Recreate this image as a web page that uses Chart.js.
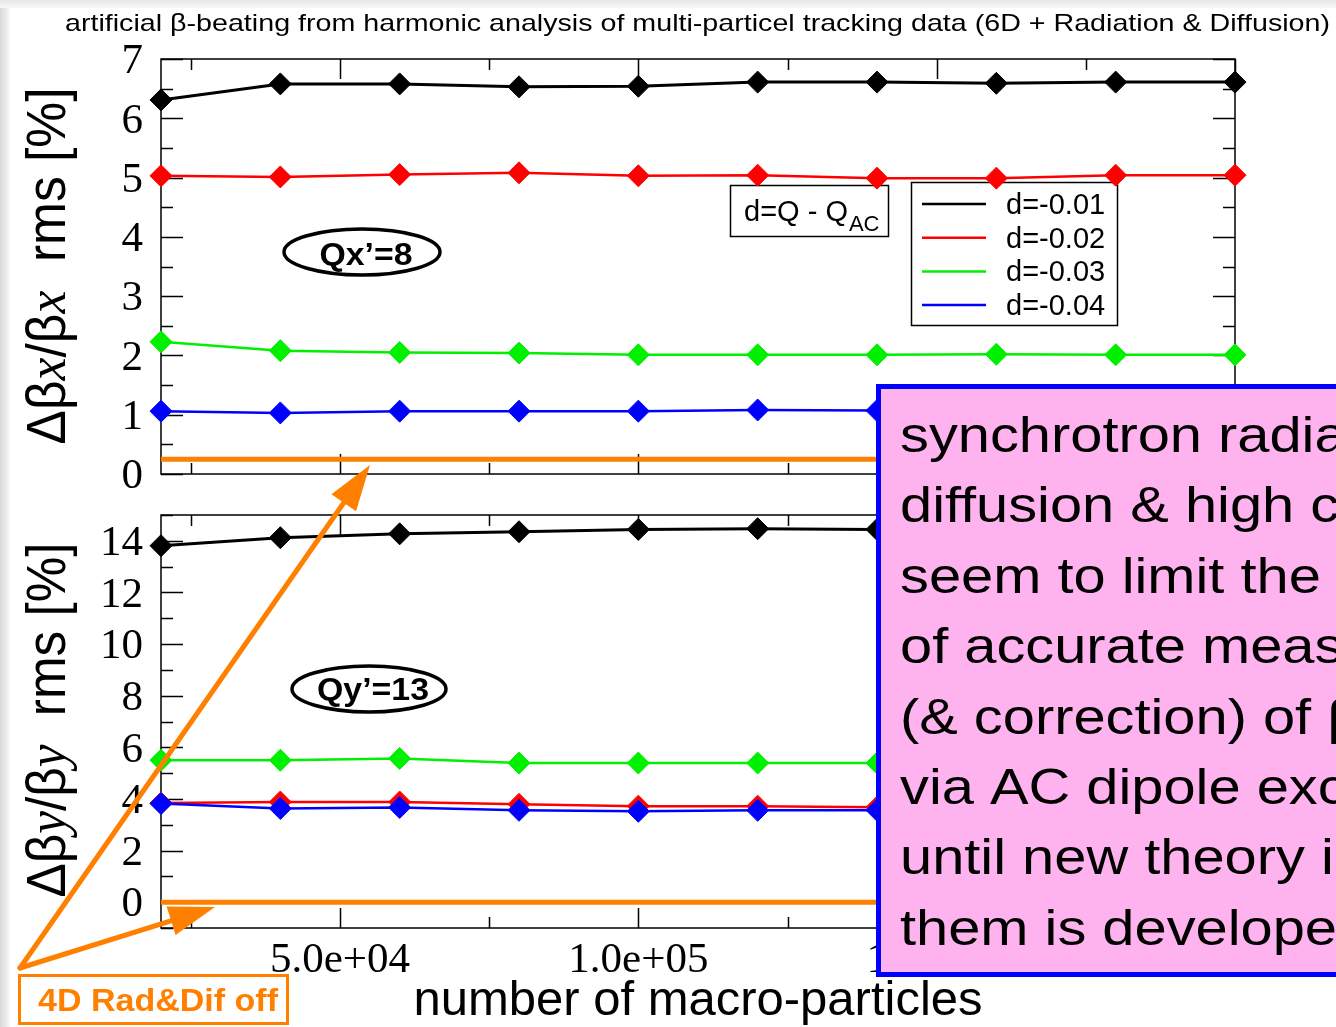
<!DOCTYPE html>
<html>
<head>
<meta charset="utf-8">
<script src="https://cdn.jsdelivr.net/npm/chart.js@4.4.1/dist/chart.umd.min.js"></script>
<style>
  html, body { margin: 0; padding: 0; background: #fff; }
  #page { position: relative; width: 1336px; height: 1027px; overflow: hidden;
          background: linear-gradient(to right, #d9d9d9 0px, #f3f3f3 9px, #fff 10px); }
  #page::before { content: ""; position: absolute; left: 0; top: 0; width: 1336px; height: 8px;
          background: linear-gradient(to bottom, #e6e6e6, #f8f8f8); }
  canvas { position: absolute; left: 0; }
  #topChart { top: 0; }
  #bottomChart { top: 500px; }
  #overlay { top: 0; pointer-events: none; }
</style>
</head>
<body>
<div id="page">
  <canvas id="topChart" width="1336" height="500"></canvas>
  <canvas id="bottomChart" width="1336" height="527"></canvas>
  <canvas id="overlay" width="1336" height="1027"></canvas>
</div>
<script>
// ==== Data ====
const particles = [20000, 40000, 60000, 80000, 100000, 120000, 140000, 160000, 180000, 200000];
const seriesLabels = ["d=-0.01", "d=-0.02", "d=-0.03", "d=-0.04"];
const seriesColors = ["#000000", "#ff0000", "#00f000", "#0000ff"];

// horizontal plane, Qx'=8
const bxD1 = [6.31, 6.58, 6.58, 6.53, 6.54, 6.61, 6.61, 6.59, 6.61, 6.61];
const bxD2 = [5.03, 5.01, 5.05, 5.08, 5.03, 5.04, 4.99, 4.99, 5.04, 5.04];
const bxD3 = [2.23, 2.08, 2.05, 2.04, 2.01, 2.01, 2.01, 2.02, 2.01, 2.01];
const bxD4 = [1.06, 1.03, 1.06, 1.06, 1.06, 1.08, 1.07, 1.07, 1.07, 1.07];
// vertical plane, Qy'=13
const byD1 = [13.81, 14.12, 14.27, 14.35, 14.44, 14.47, 14.44, 14.46, 14.47, 14.47];
const byD2 = [3.84, 3.88, 3.88, 3.79, 3.72, 3.72, 3.68, 3.70, 3.70, 3.70];
const byD3 = [5.50, 5.50, 5.57, 5.39, 5.39, 5.39, 5.39, 5.39, 5.39, 5.39];
const byD4 = [3.82, 3.63, 3.67, 3.56, 3.52, 3.56, 3.56, 3.56, 3.56, 3.56];

// 4D tracking without radiation & diffusion
const offRange = [20000, 200000];
const bxOff = [0.25, 0.25];
const byOff = [0.0, 0.0];

// ==== Ticks ====
const xTicks = [25000, 50000, 75000, 100000, 125000, 150000, 175000, 200000];
const xTickLabels = ["", "5.0e+04", "", "1.0e+05", "", "1.5e+05", "", "2.0e+05"];
const bxTicks = [0, 0.5, 1, 1.5, 2, 2.5, 3, 3.5, 4, 4.5, 5, 5.5, 6, 6.5, 7];
const bxTickLabels = ["0", "", "1", "", "2", "", "3", "", "4", "", "5", "", "6", "", "7"];
const byTicks = [-1, 0, 1, 2, 3, 4, 5, 6, 7, 8, 9, 10, 11, 12, 13, 14, 15];
const byTickLabels = ["", "0", "", "2", "", "4", "", "6", "", "8", "", "10", "", "12", "", "14", ""];

const ORANGE = "#ff8000";
const SANS = '"Liberation Sans", Arial, sans-serif';
const SERIF = '"Liberation Serif", "Times New Roman", serif';

// ==== Chart helpers ====
function series(values, i) {
  return {
    label: seriesLabels[i],
    data: particles.map((x, k) => ({ x, y: values[k] })),
    borderColor: seriesColors[i],
    backgroundColor: seriesColors[i],
    borderWidth: i === 0 ? 3 : 2.5,
    pointStyle: "rectRot",
    pointRadius: 11,
    pointBorderWidth: 1,
    tension: 0,
    clip: false,
    order: 4 - i
  };
}

function offLine(values) {
  return {
    label: "4D",
    data: offRange.map((x, k) => ({ x, y: values[k] })),
    borderColor: ORANGE,
    borderWidth: 5,
    pointRadius: 0,
    tension: 0,
    order: 10
  };
}

// fixed-size axis: no extra room for edge labels
function linearAxis(min, max, ticks, labels, show, size, padding, extra) {
  const horizontal = size.height !== undefined;
  return Object.assign({
    type: "linear",
    min, max,
    afterBuildTicks: s => { s.ticks = ticks.map(v => ({ value: v })); },
    afterFit: s => {
      if (horizontal) s.height = size.height; else s.width = size.width;
      s.paddingTop = 0; s.paddingBottom = 0; s.paddingLeft = 0; s.paddingRight = 0;
    },
    ticks: {
      display: show,
      autoSkip: false,
      maxRotation: 0,
      padding,
      labelOffset: horizontal ? 0 : 3,
      color: "#000",
      font: { family: SERIF, size: 43 },
      callback: (v, i) => labels[i]
    },
    grid: { display: false, drawTicks: false },
    border: { display: false }
  }, extra);
}

// box frame + inward ticks on all four sides
function framePlugin(xLabels, yLabels) {
  return {
    id: "frame",
    beforeDatasetsDraw(chart) {
      const { ctx, chartArea: a, scales: { x, y } } = chart;
      ctx.save();
      ctx.strokeStyle = "#000";
      ctx.lineWidth = 1.5;
      ctx.strokeRect(a.left, a.top, a.right - a.left, a.bottom - a.top);
      ctx.beginPath();
      x.ticks.forEach((t, i) => {
        const px = Math.round(x.getPixelForValue(t.value)) + 0.5;
        const len = xLabels[i] ? 20 : 11;
        ctx.moveTo(px, a.bottom); ctx.lineTo(px, a.bottom - len);
        ctx.moveTo(px, a.top); ctx.lineTo(px, a.top + len);
      });
      y.ticks.forEach((t, i) => {
        const py = Math.round(y.getPixelForValue(t.value)) + 0.5;
        const len = yLabels[i] ? 22 : 12;
        ctx.moveTo(a.left, py); ctx.lineTo(a.left + len, py);
        ctx.moveTo(a.right, py); ctx.lineTo(a.right - len, py);
      });
      ctx.stroke();
      ctx.restore();
    }
  };
}

// legend and tune definition inside the upper plot
const legendPlugin = {
  id: "tuneLegend",
  beforeDatasetsDraw(chart) {
    const ctx = chart.ctx;
    ctx.save();
    ctx.fillStyle = "#fff";
    ctx.strokeStyle = "#000";
    ctx.lineWidth = 1.5;
    ctx.fillRect(911, 182, 207, 144);
    ctx.strokeRect(911.5, 182.5, 206, 143);
    ctx.font = "29px " + SANS;
    ctx.textBaseline = "alphabetic";
    chart.data.datasets.slice(0, 4).forEach((ds, i) => {
      const ly = 204 + i * 33.7;
      ctx.strokeStyle = ds.borderColor;
      ctx.lineWidth = 2.5;
      ctx.beginPath();
      ctx.moveTo(922, ly);
      ctx.lineTo(986, ly);
      ctx.stroke();
      ctx.fillStyle = "#000";
      ctx.fillText(ds.label, 1006, ly + 10);
    });

    ctx.fillStyle = "#fff";
    ctx.strokeStyle = "#000";
    ctx.lineWidth = 1.5;
    ctx.fillRect(730, 185, 159, 52);
    ctx.strokeRect(730.5, 185.5, 158, 51);
    ctx.fillStyle = "#000";
    ctx.font = "29px " + SANS;
    ctx.fillText("d=Q - Q", 744, 221);
    const w = ctx.measureText("d=Q - Q").width;
    ctx.font = "22px " + SANS;
    ctx.fillText("AC", 744 + w + 1, 231);
    ctx.restore();
  }
};

// ==== Horizontal plot ====
new Chart(document.getElementById("topChart"), {
  type: "line",
  data: {
    datasets: [series(bxD1, 0), series(bxD2, 1), series(bxD3, 2), series(bxD4, 3), offLine(bxOff)]
  },
  options: {
    responsive: false,
    animation: false,
    events: [],
    layout: { padding: { top: 59, right: 101, left: 0, bottom: 0 } },
    plugins: { legend: { display: false }, tooltip: { enabled: false } },
    scales: {
      x: linearAxis(20000, 200000, xTicks, xTickLabels, false, { height: 26 }, 10),
      y: linearAxis(0, 7, bxTicks, bxTickLabels, true, { width: 161 }, 18)
    }
  },
  plugins: [framePlugin(xTickLabels, bxTickLabels), legendPlugin]
});

// ==== Vertical plot ====
new Chart(document.getElementById("bottomChart"), {
  type: "line",
  data: {
    datasets: [series(byD1, 0), series(byD2, 1), series(byD3, 2), series(byD4, 3), offLine(byOff)]
  },
  options: {
    responsive: false,
    animation: false,
    events: [],
    layout: { padding: { top: 15, right: 101, left: 0, bottom: 0 } },
    plugins: { legend: { display: false }, tooltip: { enabled: false } },
    scales: {
      x: linearAxis(20000, 200000, xTicks, xTickLabels, true, { height: 99 }, 7, {
        title: { display: true, text: "number of macro-particles", color: "#000",
                 font: { family: SANS, size: 49 }, padding: { top: 0, bottom: -4 } }
      }),
      y: linearAxis(-1, 15, byTicks, byTickLabels, true, { width: 161 }, 18)
    }
  },
  plugins: [framePlugin(xTickLabels, byTickLabels)]
});

// ==== Slide annotations ====
const ctx = document.getElementById("overlay").getContext("2d");

function fitText(text, x, y, font, width, color) {
  ctx.save();
  ctx.font = font;
  const w = ctx.measureText(text).width;
  ctx.translate(x, y);
  ctx.scale(width / w, 1);
  ctx.fillStyle = color;
  ctx.fillText(text, 0, 0);
  ctx.restore();
}

function axisTitle(parts, baseX, cy, length) {
  ctx.save();
  let total = 0;
  parts.forEach(p => { ctx.font = p[1]; p.w = ctx.measureText(p[0]).width; total += p.w; });
  ctx.translate(baseX, cy);
  ctx.rotate(-Math.PI / 2);
  ctx.scale(length / total, 1);
  ctx.fillStyle = "#000";
  let pos = -total / 2;
  parts.forEach(p => { ctx.font = p[1]; ctx.fillText(p[0], pos, 0); pos += p.w; });
  ctx.restore();
}

function arrow(x0, y0, x1, y1) {
  const a = Math.atan2(y1 - y0, x1 - x0);
  const len = 46, half = 15;
  const bx = x1 - len * Math.cos(a), by = y1 - len * Math.sin(a);
  ctx.save();
  ctx.strokeStyle = ORANGE;
  ctx.fillStyle = ORANGE;
  ctx.lineWidth = 5;
  ctx.lineCap = "round";
  ctx.beginPath();
  ctx.moveTo(x0, y0);
  ctx.lineTo(bx + 4 * Math.cos(a), by + 4 * Math.sin(a));
  ctx.stroke();
  ctx.beginPath();
  ctx.moveTo(x1, y1);
  ctx.lineTo(bx + half * Math.sin(a), by - half * Math.cos(a));
  ctx.lineTo(bx - half * Math.sin(a), by + half * Math.cos(a));
  ctx.closePath();
  ctx.fill();
  ctx.restore();
}

function chromaTag(text, cx, cy, rx, ry, baseY, width) {
  ctx.save();
  ctx.strokeStyle = "#000";
  ctx.lineWidth = 3.5;
  ctx.beginPath();
  ctx.ellipse(cx, cy, rx, ry, 0, 0, Math.PI * 2);
  ctx.stroke();
  ctx.restore();
  fitText(text, cx - width / 2 + 4, baseY, "bold 32px " + SANS, width, "#000");
}

// title
fitText("artificial \u03b2-beating from harmonic analysis of multi-particel tracking data (6D + Radiation & Diffusion)",
        65, 31, "24px " + SANS, 1265, "#000");

// y axis titles
axisTitle([["\u0394\u03b2", "55px " + SANS], ["x", "italic 55px " + SERIF], ["/\u03b2", "55px " + SANS],
           ["x", "italic 55px " + SERIF], ["  rms [%]", "55px " + SANS]], 65, 266, 357);
axisTitle([["\u0394\u03b2", "55px " + SANS], ["y", "italic 55px " + SERIF], ["/\u03b2", "55px " + SANS],
           ["y", "italic 55px " + SERIF], ["  rms [%]", "55px " + SANS]], 65, 720, 355);

// chromaticity tags
chromaTag("Qx\u2019=8", 362, 252, 78, 23, 265, 93);
chromaTag("Qy\u2019=13", 369, 689, 77, 23, 700, 112);

// radiation & diffusion off marker
arrow(20, 968, 370, 465);
arrow(20, 968, 215, 907);
ctx.save();
ctx.strokeStyle = ORANGE;
ctx.lineWidth = 3;
ctx.strokeRect(19.5, 975.5, 268, 48);
ctx.restore();
fitText("4D Rad&Dif off", 38, 1011, "bold 31px " + SANS, 240, ORANGE);

// comment box
const noteLines = [
  "synchrotron radiation,",
  "diffusion & high chromaticity",
  "seem to limit the precision",
  "of accurate measurement",
  "(& correction) of \u03b2-beating",
  "via AC dipole excitation",
  "until new theory including",
  "them is developed"
];
ctx.save();
ctx.fillStyle = "#ffb3ee";
ctx.fillRect(878, 386, 520, 589);
ctx.strokeStyle = "#0000ff";
ctx.lineWidth = 5;
ctx.strokeRect(878.5, 386.5, 520, 588);
ctx.font = "50px " + SANS;
const stretch = 302 / ctx.measureText("synchrotron").width;
ctx.restore();
noteLines.forEach((line, i) => {
  ctx.save();
  ctx.font = "50px " + SANS;
  const w = ctx.measureText(line).width;
  ctx.restore();
  fitText(line, 900, 452 + i * 70.4, "50px " + SANS, w * stretch, "#000");
});
</script>
</body>
</html>
